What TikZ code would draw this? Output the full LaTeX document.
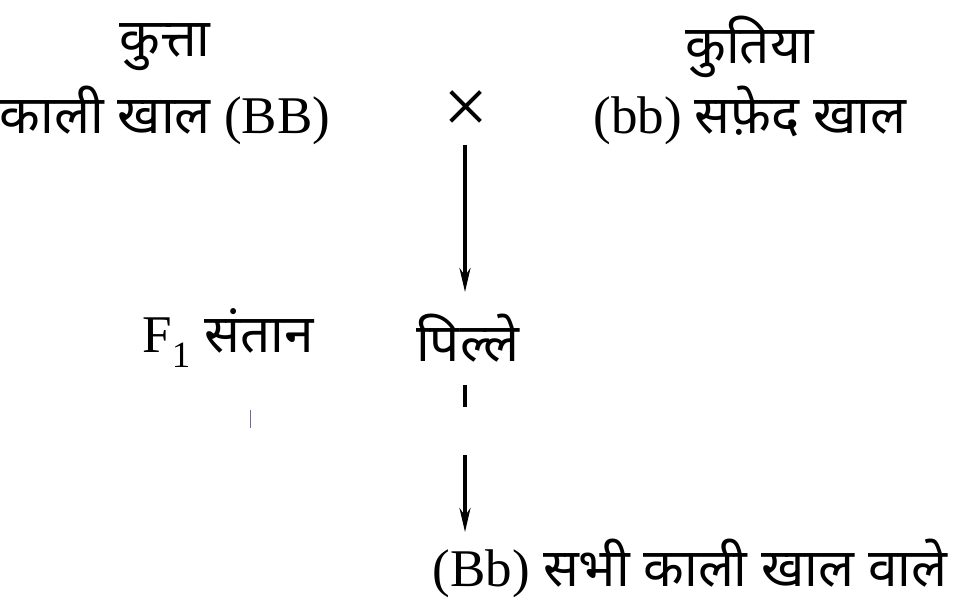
\documentclass[tikz,border=0pt]{standalone}
\usepackage{fontspec}
\setmainfont{Liberation Serif}
\newfontfamily\hindi[Script=Devanagari]{Noto Sans}
\usetikzlibrary{arrows.meta}
\definecolor{tick}{RGB}{120, 100, 170}
\tikzset{
	txt/.style={inner sep=0pt, font=\fontsize{53}{58}\selectfont},
	cross/.style={line width=3.5pt, -{Stealth[length=24pt, width=11pt]}}
}

\begin{document}
\begin{tikzpicture}[x=1pt, y=-1pt]
			\useasboundingbox (0, 0) rectangle (980, 604);
			\node[txt] (dog) at (165, 47) {\hindi कुत्ता};
			\node[txt] (dogskin) at (165, 115) {{\hindi काली खाल} (BB)};
			\node[txt, font=\fontsize{80}{84}\selectfont] (cross) at (466, 112) {×};
			\node[txt] (bitch) at (750, 47) {\hindi कुतिया};
			\node[txt] (bitchskin) at (750, 115) {(bb) {\hindi सफ़ेद खाल}};
			\node[txt] (fone) at (228, 338) {F\textsubscript{1} {\hindi संतान}};
			\node[txt] (pups) at (468, 338) {\hindi पिल्ले};
			\node[txt] (result) at (690, 568) {(Bb) {\hindi सभी काली खाल वाले}};
			\coordinate (d1) at (465, 385);
			\coordinate (d2) at (465, 407);
			\coordinate (a1) at (465, 455);
			\draw [cross] (465, 145) -- (465, 292);
			\draw [line width=3.5pt] (d1) -- (d2);
			\draw [cross] (a1) -- (465, 532);
			\draw [draw=tick, line width=1pt] (250, 410) -- (250, 428);
		\end{tikzpicture}
\end{document}
